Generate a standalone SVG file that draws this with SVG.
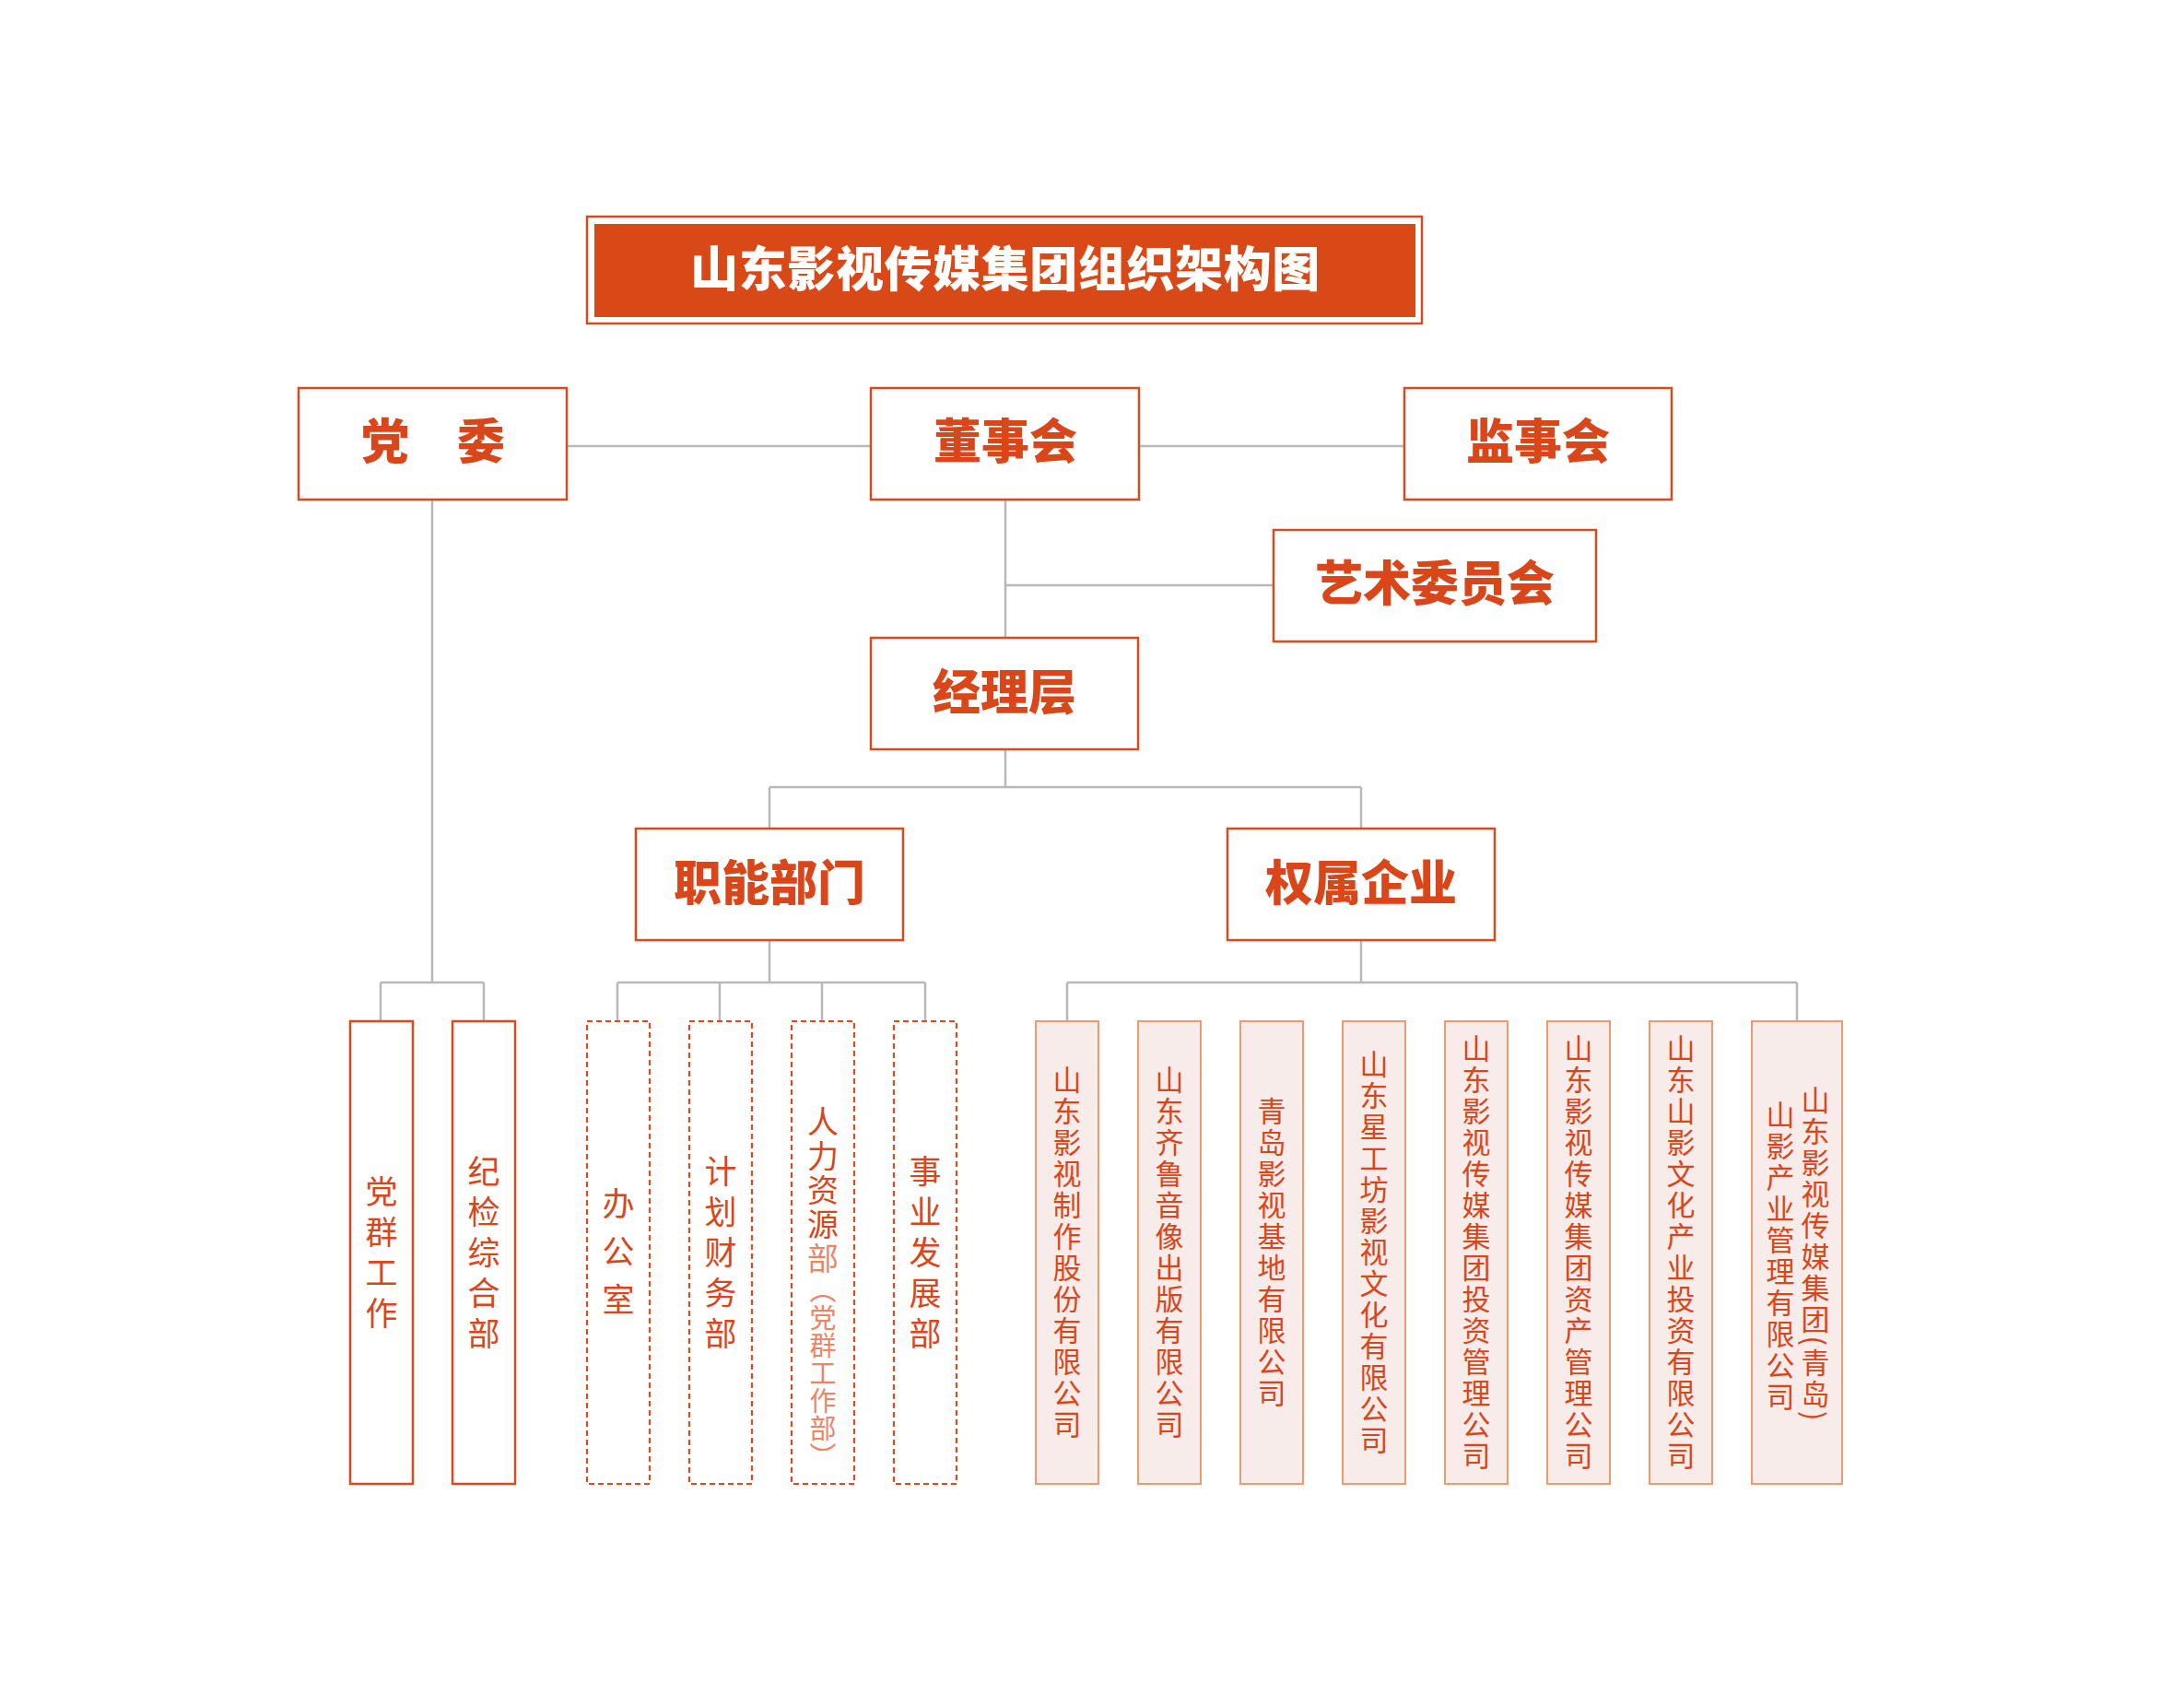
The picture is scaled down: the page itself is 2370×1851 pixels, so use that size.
<svg xmlns="http://www.w3.org/2000/svg" width="2370" height="1851" viewBox="0 0 2370 1851">
<style>
.hd{fill:#fff;stroke:#db4a1c;stroke-width:2.5}
.hdt{font-family:"Noto Sans CJK SC","Noto Sans CJK JP",sans-serif;font-weight:900;font-size:52px;fill:#d9461a;text-anchor:middle}
.ttl{font-family:"Noto Sans CJK SC","Noto Sans CJK JP",sans-serif;font-weight:900;font-size:52px;fill:#ffffff;text-anchor:middle;letter-spacing:0.6px}
.solid{fill:#fff;stroke:#db4a1c;stroke-width:2.5}
.dash{fill:#fff;stroke:#e04a1e;stroke-width:2.2;stroke-dasharray:6 4}
.sub{fill:#f7ece9;stroke:#ef9a6c;stroke-width:2}
.vt{font-family:"Noto Sans CJK SC","Noto Sans CJK JP",sans-serif;writing-mode:vertical-rl;fill:#d9461a;text-anchor:middle}
.v35{font-size:35px;letter-spacing:9px}
.v31{font-size:31px;letter-spacing:3px}
.light{fill:#ec8466}
.cn{fill:none;stroke:#b8b8b8;stroke-width:2.5}
</style>
<rect width="2370" height="1851" fill="#ffffff"/>

<g id="connectors">
<path class="cn" d="M615 484H945M1236 484H1524"/>
<path class="cn" d="M1091 542V692M1091 635H1382"/>
<path class="cn" d="M1091 813V854M835 854H1477M835 854V899M1477 854V899"/>
<path class="cn" d="M469 542V1066M413 1066H525M413 1066V1108M525 1066V1108"/>
<path class="cn" d="M835 1020V1066M670 1066H1004M670 1066V1108M781 1066V1108M892 1066V1108M1004 1066V1108"/>
<path class="cn" d="M1477 1020V1066M1158 1066H1950M1158 1066V1108M1950 1066V1108"/>
</g>

<g id="title">
<rect x="637" y="235" width="906" height="116" fill="#fff" stroke="#db4a1c" stroke-width="2.5"/>
<rect x="645" y="243" width="891" height="101" fill="#d94817"/>
<text class="ttl" x="1091" y="311">山东影视传媒集团组织架构图</text>
</g>

<g id="dangwei">
<rect class="hd" x="324" y="421" width="291" height="121"/>
<text class="hdt" x="470" y="498">党　委</text>
</g>
<g id="dongshihui">
<rect class="hd" x="945" y="421" width="291" height="121"/>
<text class="hdt" x="1091" y="498">董事会</text>
</g>
<g id="jianshihui">
<rect class="hd" x="1524" y="421" width="290" height="121"/>
<text class="hdt" x="1669" y="498">监事会</text>
</g>
<g id="yishu">
<rect class="hd" x="1382" y="575" width="350" height="121"/>
<text class="hdt" x="1557" y="652">艺术委员会</text>
</g>
<g id="jingliceng">
<rect class="hd" x="945" y="692" width="290" height="121"/>
<text class="hdt" x="1090" y="770">经理层</text>
</g>
<g id="zhineng">
<rect class="hd" x="690" y="899" width="290" height="121"/>
<text class="hdt" x="835" y="977">职能部门</text>
</g>
<g id="quanshu">
<rect class="hd" x="1332" y="899" width="290" height="121"/>
<text class="hdt" x="1477" y="977">权属企业</text>
</g>

<g id="dangqun">
<rect class="solid" x="380" y="1108" width="68" height="502"/>
<text class="vt v35" x="414" y="1363">党群工作</text>
</g>
<g id="jijian">
<rect class="solid" x="491" y="1108" width="68" height="502"/>
<text class="vt v35" x="525" y="1363">纪检综合部</text>
</g>

<g id="bangongshi">
<rect class="dash" x="637" y="1108" width="68" height="502"/>
<text class="vt" x="671" y="1366" style="font-size:35px;letter-spacing:17px">办公室</text>
</g>
<g id="caiwu">
<rect class="dash" x="748" y="1108" width="68" height="502"/>
<text class="vt v35" x="782" y="1363">计划财务部</text>
</g>
<g id="renli">
<rect class="dash" x="859" y="1108" width="68" height="502"/>
<text class="vt" x="893" y="1200" style="text-anchor:start;font-size:34px;letter-spacing:3px">人力资源<tspan class="light">部</tspan><tspan class="light" style="font-size:29px;letter-spacing:1px">（党群工作部）</tspan></text>
</g>
<g id="shiye">
<rect class="dash" x="970" y="1108" width="68" height="502"/>
<text class="vt v35" x="1004" y="1363">事业发展部</text>
</g>

<g id="sub1">
<rect class="sub" x="1124" y="1108" width="68" height="502"/>
<text class="vt v31" x="1158" y="1360">山东影视制作股份有限公司</text>
</g>
<g id="sub2">
<rect class="sub" x="1235" y="1108" width="68" height="502"/>
<text class="vt v31" x="1269" y="1360">山东齐鲁音像出版有限公司</text>
</g>
<g id="sub3">
<rect class="sub" x="1346" y="1108" width="68" height="502"/>
<text class="vt v31" x="1380" y="1360">青岛影视基地有限公司</text>
</g>
<g id="sub4">
<rect class="sub" x="1457" y="1108" width="68" height="502"/>
<text class="vt v31" x="1491" y="1360">山东星工坊影视文化有限公司</text>
</g>
<g id="sub5">
<rect class="sub" x="1568" y="1108" width="68" height="502"/>
<text class="vt v31" x="1602" y="1360">山东影视传媒集团投资管理公司</text>
</g>
<g id="sub6">
<rect class="sub" x="1679" y="1108" width="68" height="502"/>
<text class="vt v31" x="1713" y="1360">山东影视传媒集团资产管理公司</text>
</g>
<g id="sub7">
<rect class="sub" x="1790" y="1108" width="68" height="502"/>
<text class="vt v31" x="1824" y="1360">山东山影文化产业投资有限公司</text>
</g>
<g id="sub8">
<rect class="sub" x="1901" y="1108" width="98" height="502"/>
<text class="vt v31" x="1970" y="1361">山东影视传媒集团(青岛)</text>
<text class="vt v31" x="1932" y="1364">山影产业管理有限公司</text>
</g>
</svg>
